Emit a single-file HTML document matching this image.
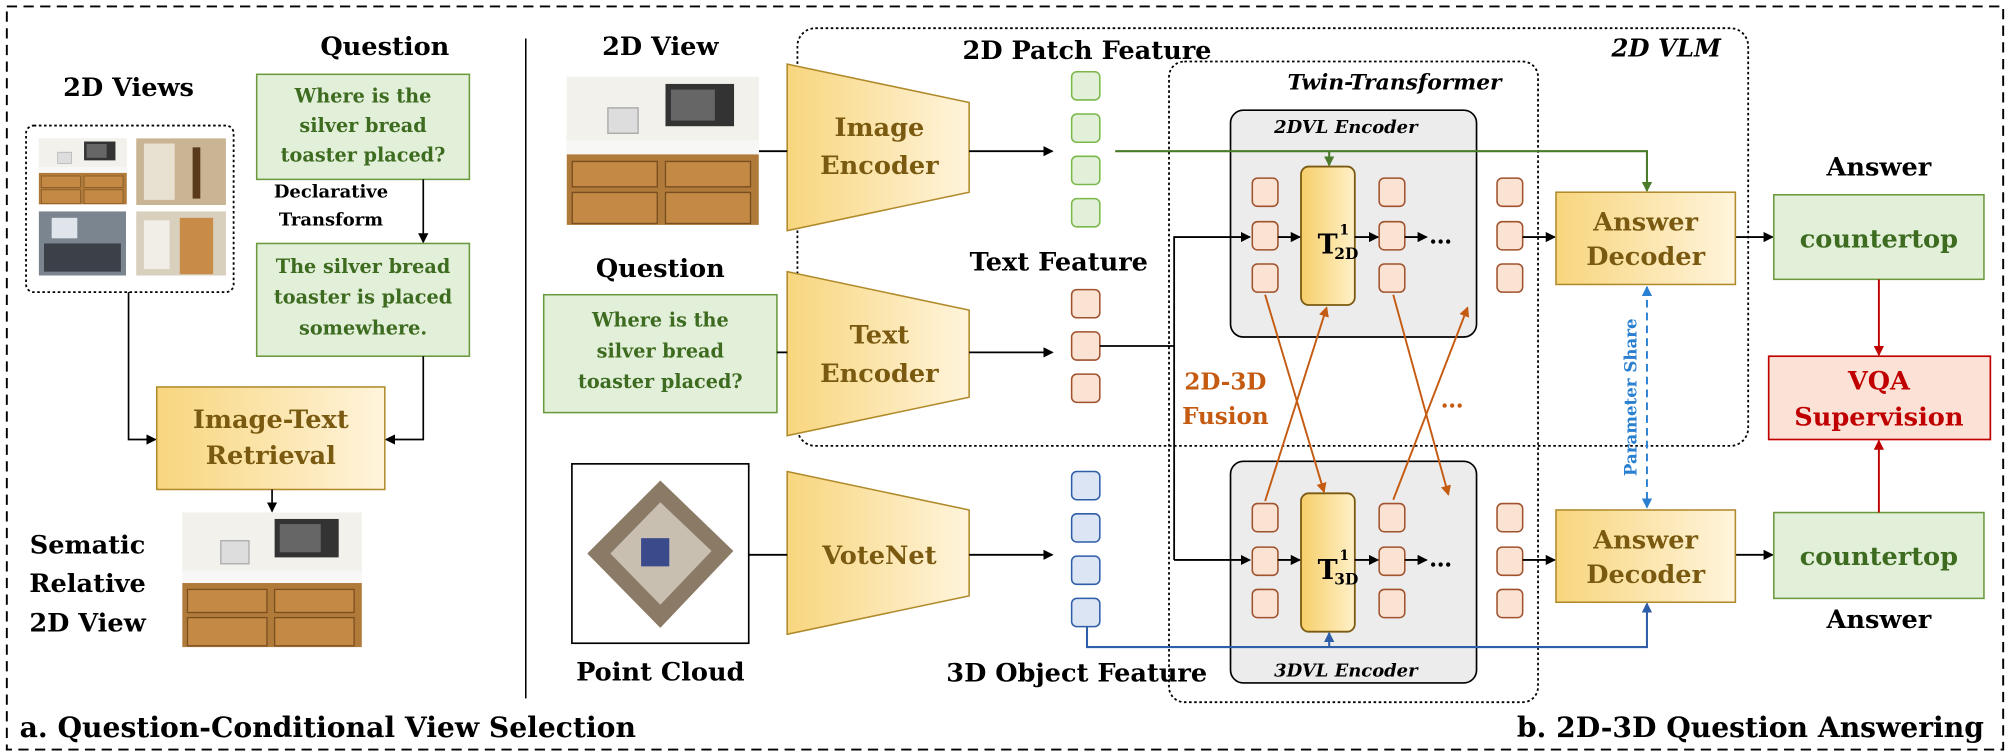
<!DOCTYPE html>
<html><head><meta charset="utf-8"><style>
html,body{margin:0;padding:0;background:#fff}
svg{display:block}
text{font-family:"DejaVu Serif","Liberation Serif",serif;font-weight:bold}
</style></head><body>
<svg width="2010" height="756" viewBox="0 0 1568 590" xmlns="http://www.w3.org/2000/svg">
<defs>
<linearGradient id="yg" x1="0" x2="1" y1="0" y2="0"><stop offset="0" stop-color="#f8d67e"/><stop offset="1" stop-color="#fff4dc"/></linearGradient>
<linearGradient id="tg" x1="0" x2="1"><stop offset="0" stop-color="#f6cf6a"/><stop offset="1" stop-color="#fff0c8"/></linearGradient>
<marker id="ak" markerWidth="8" markerHeight="8" refX="7" refY="4" orient="auto" markerUnits="userSpaceOnUse"><path d="M0,0L8,4L0,8z" fill="#000"/></marker>
<marker id="ag" markerWidth="8" markerHeight="8" refX="7" refY="4" orient="auto" markerUnits="userSpaceOnUse"><path d="M0,0L8,4L0,8z" fill="#4a7a2a"/></marker>
<marker id="ab" markerWidth="8" markerHeight="8" refX="7" refY="4" orient="auto" markerUnits="userSpaceOnUse"><path d="M0,0L8,4L0,8z" fill="#2f5ea8"/></marker>
<marker id="ao" markerWidth="8" markerHeight="8" refX="7" refY="4" orient="auto" markerUnits="userSpaceOnUse"><path d="M0,0L8,4L0,8z" fill="#c55a11"/></marker>
<marker id="ar" markerWidth="8" markerHeight="8" refX="7" refY="4" orient="auto" markerUnits="userSpaceOnUse"><path d="M0,0L8,4L0,8z" fill="#c00000"/></marker>
<marker id="abl" markerWidth="8" markerHeight="8" refX="7" refY="4" orient="auto-start-reverse" markerUnits="userSpaceOnUse"><path d="M0,0L8,4L0,8z" fill="#2a7fd0"/></marker>
<g id="kitchen">
<rect width="140" height="105" fill="#e9e6e0"/>
<rect y="0" width="140" height="45" fill="#f3f1ec"/>
<rect x="72" y="5" width="50" height="30" fill="#333"/><rect x="76" y="9" width="32" height="22" fill="#666"/>
<rect x="30" y="22" width="22" height="18" fill="#ddd" stroke="#aaa"/>
<rect y="45" width="140" height="10" fill="#f7f7f5"/>
<rect y="55" width="140" height="50" fill="#b07a3a"/>
<rect x="4" y="60" width="62" height="18" fill="#c48a45" stroke="#7a4f1f"/><rect x="72" y="60" width="62" height="18" fill="#c48a45" stroke="#7a4f1f"/>
<rect x="4" y="82" width="62" height="22" fill="#c48a45" stroke="#7a4f1f"/><rect x="72" y="82" width="62" height="22" fill="#c48a45" stroke="#7a4f1f"/>
</g>
</defs>
<rect x="5" y="5" width="1558" height="580" fill="none" stroke="#000" stroke-width="1.5" stroke-dasharray="8,5"/>
<line x1="410" y1="30" x2="410" y2="545" stroke="#000" stroke-width="1.2"/>

<!-- LEFT -->
<text x="300" y="43" font-size="20" text-anchor="middle">Question</text>
<text x="100" y="75" font-size="20" text-anchor="middle">2D Views</text>
<rect x="20" y="98" width="162" height="130" rx="6" fill="none" stroke="#000" stroke-dasharray="2,2" stroke-width="1.4"/>
<use href="#kitchen" transform="translate(30,108) scale(0.49)"/>
<rect x="106" y="108" width="70" height="52" fill="#c9b493"/><rect x="112" y="112" width="24" height="44" fill="#e8e1d2"/><rect x="150" y="115" width="6" height="40" fill="#5a3a1a"/>
<rect x="30" y="165" width="68" height="50" fill="#7b8590"/><rect x="34" y="190" width="60" height="22" fill="#3c4048"/><rect x="40" y="170" width="20" height="16" fill="#dfe5ea"/>
<rect x="106" y="165" width="70" height="50" fill="#d9cfbd"/><rect x="140" y="170" width="26" height="44" fill="#c98b48"/><rect x="112" y="172" width="20" height="38" fill="#f1eee8"/>
<rect x="200" y="58" width="166" height="82" fill="#e2efd9" stroke="#6a9a3c" stroke-width="1.2"/>
<g font-size="15" fill="#3d6b1f" text-anchor="middle"><text x="283" y="80">Where is the</text><text x="283" y="103">silver bread</text><text x="283" y="126">toaster placed?</text></g>
<g font-size="14" text-anchor="middle"><text x="258" y="154">Declarative</text><text x="258" y="176">Transform</text></g>
<line x1="330" y1="140" x2="330" y2="189" stroke="#000" stroke-width="1.3" marker-end="url(#ak)"/>
<rect x="200" y="190" width="166" height="88" fill="#e2efd9" stroke="#6a9a3c" stroke-width="1.2"/>
<g font-size="15" fill="#3d6b1f" text-anchor="middle"><text x="283" y="213">The silver bread</text><text x="283" y="237">toaster is placed</text><text x="283" y="261">somewhere.</text></g>
<polyline points="100,228 100,343 121,343" fill="none" stroke="#000" stroke-width="1.3" marker-end="url(#ak)"/>
<polyline points="330,278 330,343 301,343" fill="none" stroke="#000" stroke-width="1.3" marker-end="url(#ak)"/>
<rect x="122" y="302" width="178" height="80" fill="url(#yg)" stroke="#b08a2a" stroke-width="1.2"/>
<g font-size="20" fill="#7a5a10" text-anchor="middle"><text x="211" y="334">Image-Text</text><text x="211" y="362">Retrieval</text></g>
<line x1="212" y1="382" x2="212" y2="399" stroke="#000" stroke-width="1.3" marker-end="url(#ak)"/>
<use href="#kitchen" transform="translate(142,400)"/>
<g font-size="20" text-anchor="middle"><text x="68" y="432">Sematic</text><text x="68" y="462">Relative</text><text x="68" y="493">2D View</text></g>
<text x="15" y="575" font-size="22">a. Question-Conditional View Selection</text>

<!-- RIGHT -->
<text x="515" y="43" font-size="20" text-anchor="middle">2D View</text>
<use href="#kitchen" transform="translate(442,60) scale(1.07,1.1)"/>
<text x="515" y="216" font-size="20" text-anchor="middle">Question</text>
<rect x="424" y="230" width="182" height="92" fill="#e2efd9" stroke="#6a9a3c" stroke-width="1.2"/>
<g font-size="15" fill="#3d6b1f" text-anchor="middle"><text x="515" y="255">Where is the</text><text x="515" y="279">silver bread</text><text x="515" y="303">toaster placed?</text></g>
<rect x="446" y="362" width="138" height="140" fill="#fff" stroke="#000" stroke-width="1.3"/>
<polygon points="515,375 572,430 515,490 458,432" fill="#8a7a66"/>
<polygon points="515,392 555,430 515,472 476,432" fill="#c8bfb0"/>
<rect x="500" y="420" width="22" height="22" fill="#3a4a8a"/>
<text x="515" y="531" font-size="20" text-anchor="middle">Point Cloud</text>

<rect x="622" y="22" width="742" height="326" rx="14" fill="none" stroke="#000" stroke-dasharray="2,2" stroke-width="1.4"/>
<text x="1300" y="44" font-size="19" font-style="italic" text-anchor="middle">2D VLM</text>
<text x="848" y="46" font-size="20" text-anchor="middle">2D Patch Feature</text>
<text x="826" y="211" font-size="20" text-anchor="middle">Text Feature</text>
<text x="840" y="532" font-size="20" text-anchor="middle">3D Object Feature</text>
<text x="1548" y="575" font-size="22" text-anchor="end">b. 2D-3D Question Answering</text>

<g stroke="#b08a2a" stroke-width="1.2" fill="url(#yg)">
<polygon points="614,50 756,80 756,150 614,180"/>
<polygon points="614,212 756,242 756,310 614,340"/>
<polygon points="614,368 756,398 756,465 614,495"/>
</g>
<g font-size="20" fill="#7a5a10" text-anchor="middle">
<text x="686" y="106">Image</text><text x="686" y="136">Encoder</text>
<text x="686" y="268">Text</text><text x="686" y="298">Encoder</text>
<text x="686" y="440">VoteNet</text>
</g>
<g stroke="#000" stroke-width="1.4" fill="none">
<line x1="592" y1="118" x2="614" y2="118"/><line x1="606" y1="275" x2="614" y2="275"/><line x1="584" y1="433" x2="614" y2="433"/>
<line x1="756" y1="118" x2="821" y2="118" marker-end="url(#ak)"/>
<line x1="756" y1="275" x2="821" y2="275" marker-end="url(#ak)"/>
<line x1="756" y1="433" x2="821" y2="433" marker-end="url(#ak)"/>
</g>
<g stroke="#7ab84a" fill="#e2efd9" stroke-width="1.2">
<rect x="836" y="56" width="22" height="22" rx="4"/><rect x="836" y="89" width="22" height="22" rx="4"/><rect x="836" y="122" width="22" height="22" rx="4"/><rect x="836" y="155" width="22" height="22" rx="4"/>
</g>
<g stroke="#a0522d" fill="#fbe3d4" stroke-width="1.2">
<rect x="836" y="226" width="22" height="22" rx="4"/><rect x="836" y="259" width="22" height="22" rx="4"/><rect x="836" y="292" width="22" height="22" rx="4"/>
</g>
<g stroke="#2f5ea8" fill="#dbe5f4" stroke-width="1.2">
<rect x="836" y="368" width="22" height="22" rx="4"/><rect x="836" y="401" width="22" height="22" rx="4"/><rect x="836" y="434" width="22" height="22" rx="4"/><rect x="836" y="467" width="22" height="22" rx="4"/>
</g>

<rect x="912" y="48" width="288" height="500" rx="12" fill="none" stroke="#000" stroke-dasharray="2,2" stroke-width="1.4"/>
<text x="1088" y="70" font-size="17" font-style="italic" text-anchor="middle">Twin-Transformer</text>
<rect x="960" y="86" width="192" height="177" rx="10" fill="#ececec" stroke="#000" stroke-width="1.3"/>
<rect x="960" y="360" width="192" height="173" rx="10" fill="#ececec" stroke="#000" stroke-width="1.3"/>
<text x="1050" y="104" font-size="14" font-style="italic" text-anchor="middle">2DVL Encoder</text>
<text x="1050" y="528" font-size="14" font-style="italic" text-anchor="middle">3DVL Encoder</text>

<g stroke="#a0522d" fill="#fbe3d4" stroke-width="1.2">
<rect x="977" y="139" width="20" height="22" rx="4"/><rect x="977" y="173" width="20" height="22" rx="4"/><rect x="977" y="206" width="20" height="22" rx="4"/>
<rect x="1076" y="139" width="20" height="22" rx="4"/><rect x="1076" y="173" width="20" height="22" rx="4"/><rect x="1076" y="206" width="20" height="22" rx="4"/>
<rect x="1168" y="139" width="20" height="22" rx="4"/><rect x="1168" y="173" width="20" height="22" rx="4"/><rect x="1168" y="206" width="20" height="22" rx="4"/>
<rect x="977" y="393" width="20" height="22" rx="4"/><rect x="977" y="427" width="20" height="22" rx="4"/><rect x="977" y="460" width="20" height="22" rx="4"/>
<rect x="1076" y="393" width="20" height="22" rx="4"/><rect x="1076" y="427" width="20" height="22" rx="4"/><rect x="1076" y="460" width="20" height="22" rx="4"/>
<rect x="1168" y="393" width="20" height="22" rx="4"/><rect x="1168" y="427" width="20" height="22" rx="4"/><rect x="1168" y="460" width="20" height="22" rx="4"/>
</g>
<rect x="1015" y="130" width="42" height="108" rx="6" fill="url(#tg)" stroke="#7a5a10" stroke-width="1.4"/>
<rect x="1015" y="385" width="42" height="108" rx="6" fill="url(#tg)" stroke="#7a5a10" stroke-width="1.4"/>
<text x="1028" y="198" font-size="21">T</text><text x="1045" y="183" font-size="11">1</text><text x="1041" y="202" font-size="12">2D</text>
<text x="1028" y="452" font-size="21">T</text><text x="1045" y="437" font-size="11">1</text><text x="1041" y="456" font-size="12">3D</text>

<g stroke="#000" stroke-width="1.4" fill="none">
<polyline points="858,270 916,270"/>
<polyline points="916,437 916,185 975,185" marker-end="url(#ak)"/>
<line x1="916" y1="437" x2="975" y2="437" marker-end="url(#ak)"/>
<line x1="997" y1="185" x2="1014" y2="185" marker-end="url(#ak)"/>
<line x1="1057" y1="185" x2="1075" y2="185" marker-end="url(#ak)"/>
<line x1="1096" y1="185" x2="1113" y2="185" marker-end="url(#ak)"/>
<line x1="997" y1="437" x2="1014" y2="437" marker-end="url(#ak)"/>
<line x1="1057" y1="437" x2="1075" y2="437" marker-end="url(#ak)"/>
<line x1="1096" y1="437" x2="1113" y2="437" marker-end="url(#ak)"/>
<line x1="1188" y1="185" x2="1213" y2="185" marker-end="url(#ak)"/>
<line x1="1188" y1="437" x2="1213" y2="437" marker-end="url(#ak)"/>
<line x1="1354" y1="185" x2="1383" y2="185" marker-end="url(#ak)"/>
<line x1="1354" y1="433" x2="1383" y2="433" marker-end="url(#ak)"/>
</g>
<text x="1115" y="190" font-size="18">…</text>
<text x="1115" y="442" font-size="18">…</text>

<polyline points="870,118 1285,118 1285,149" fill="none" stroke="#4a7a2a" stroke-width="1.6" marker-end="url(#ag)"/>
<line x1="1037" y1="118" x2="1037" y2="129" stroke="#4a7a2a" stroke-width="1.6" marker-end="url(#ag)"/>
<polyline points="848,489 848,505 1285,505 1285,471" fill="none" stroke="#2f5ea8" stroke-width="1.6" marker-end="url(#ab)"/>
<line x1="1037" y1="505" x2="1037" y2="494" stroke="#2f5ea8" stroke-width="1.6" marker-end="url(#ab)"/>

<g stroke="#c55a11" stroke-width="1.5" fill="none">
<line x1="987" y1="230" x2="1033" y2="384" marker-end="url(#ao)"/>
<line x1="987" y1="391" x2="1035" y2="240" marker-end="url(#ao)"/>
<line x1="1087" y1="230" x2="1130" y2="386" marker-end="url(#ao)"/>
<line x1="1087" y1="390" x2="1145" y2="240" marker-end="url(#ao)"/>
</g>
<g font-size="18" fill="#c55a11" text-anchor="middle"><text x="956" y="304">2D-3D</text><text x="956" y="331">Fusion</text><text x="1133" y="318">…</text></g>

<rect x="1214" y="150" width="140" height="72" fill="url(#yg)" stroke="#b08a2a" stroke-width="1.2"/>
<rect x="1214" y="398" width="140" height="72" fill="url(#yg)" stroke="#b08a2a" stroke-width="1.2"/>
<g font-size="20" fill="#7a5a10" text-anchor="middle">
<text x="1284" y="180">Answer</text><text x="1284" y="207">Decoder</text>
<text x="1284" y="428">Answer</text><text x="1284" y="455">Decoder</text>
</g>
<line x1="1285" y1="224" x2="1285" y2="396" stroke="#2a7fd0" stroke-width="1.5" stroke-dasharray="6,4" marker-start="url(#abl)" marker-end="url(#abl)"/>
<text transform="translate(1277,310) rotate(-90)" font-size="13" fill="#2a7fd0" text-anchor="middle">Parameter Share</text>

<text x="1466" y="137" font-size="20" text-anchor="middle">Answer</text>
<rect x="1384" y="152" width="164" height="66" fill="#e2efd9" stroke="#6a9a3c" stroke-width="1.2"/>
<text x="1466" y="193" font-size="20" fill="#3d6b1f" text-anchor="middle">countertop</text>
<rect x="1380" y="278" width="173" height="65" fill="#fbe1d6" stroke="#c00000" stroke-width="1.3"/>
<g font-size="20" fill="#c00000" text-anchor="middle"><text x="1466" y="304">VQA</text><text x="1466" y="332">Supervision</text></g>
<rect x="1384" y="400" width="164" height="67" fill="#e2efd9" stroke="#6a9a3c" stroke-width="1.2"/>
<text x="1466" y="441" font-size="20" fill="#3d6b1f" text-anchor="middle">countertop</text>
<text x="1466" y="490" font-size="20" text-anchor="middle">Answer</text>
<line x1="1466" y1="218" x2="1466" y2="277" stroke="#c00000" stroke-width="1.5" marker-end="url(#ar)"/>
<line x1="1466" y1="400" x2="1466" y2="344" stroke="#c00000" stroke-width="1.5" marker-end="url(#ar)"/>
</svg>
</body></html>
